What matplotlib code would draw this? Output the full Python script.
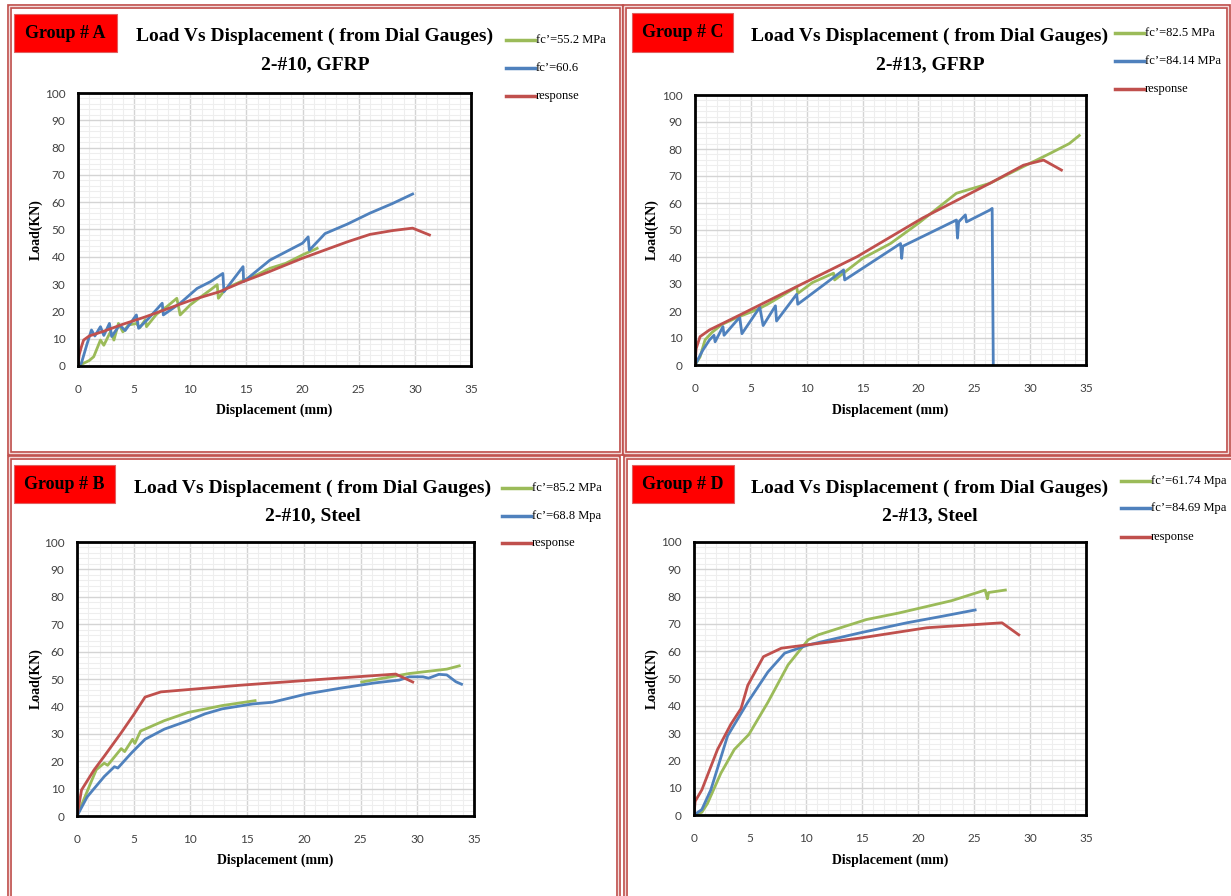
import numpy as np
import matplotlib
matplotlib.use("Agg")
import matplotlib.pyplot as plt
from matplotlib.lines import Line2D
from matplotlib.patches import Rectangle

nan = np.nan

# ---------------- data ----------------
A_green_x = [0, 0.5, 1.0, 1.4, 2.0, 2.3, 2.9, 3.2, 3.6, 4.0, 4.5, 5.2, 5.5, 6.0, 6.1, 7.0, 7.9, 8.8, 9.1, 10.0, 11.0, 11.8, 12.4, 12.5, 13.2, 14.7, 16.0, 17.1, 18.5, 20.0, 21.3]
A_green_y = [0, 1, 2, 3.4, 9.5, 7.6, 12.6, 9.5, 15.6, 12.5, 15, 15.6, 14, 17, 14.4, 19, 21.7, 24.8, 18.7, 22.4, 25.5, 27.9, 29.8, 24.8, 28.5, 31.3, 33.5, 35.8, 37.6, 40.7, 43.1]
A_blue_x = [0, 0.3, 0.8, 1.2, 1.5, 2.0, 2.3, 2.8, 3.0, 3.7, 4.2, 5.2, 5.4, 6.3, 7.5, 7.6, 9.1, 10.6, 11.8, 12.9, 13.0, 14.7, 14.75, 17.1, 20.0, 20.5, 20.6, 22.0, 24.0, 26.0, 28.0, 29.8]
A_blue_y = [0, 1, 8, 13.2, 11, 14.4, 11.2, 15.6, 10.8, 15, 13, 18.7, 13.8, 17.5, 23, 18.7, 23, 28.4, 30.9, 33.9, 27.2, 36.4, 30.9, 38.8, 45, 47.3, 42.4, 48.5, 52, 56, 59.5, 63]
A_red_x = [0, 0.1, 0.3, 0.5, 1.0, 2.2, 4.0, 6.0, 8.0, 10.0, 12.6, 14.7, 17.0, 20.0, 22.0, 24.0, 26.0, 28.0, 29.8, 31.3]
A_red_y = [0, 4, 7, 9.5, 11, 12.6, 15.3, 18, 21, 24, 27.2, 30.9, 34.5, 39.5, 42.5, 45.5, 48.2, 49.6, 50.5, 48]

C_green_x = [0, 0.45, 0.9, 1.5, 2.4, 4.0, 5.5, 6.5, 7.6, 9.1, 9.2, 10.5, 12.4, 12.5, 15.0, 17.5, 20.0, 23.4, 26.4, 29.4, 31.8, 33.5, 34.4]
C_green_y = [0, 3, 9.3, 12, 15, 18, 20.4, 22.5, 25.2, 28.9, 26.5, 30.5, 34, 31.5, 39.5, 45, 52.5, 63.6, 67.3, 73.5, 78.4, 82, 85]
C_blue_x = [0, 0.7, 1.3, 1.7, 1.8, 2.5, 2.6, 4.0, 4.2, 5.8, 6.1, 7.2, 7.3, 9.1, 9.2, 13.3, 13.4, 18.4, 18.5, 18.6, 23.4, 23.5, 23.6, 24.2, 24.3, 26.4, 26.6, 26.7]
C_blue_y = [0, 5.5, 9.3, 11, 8.6, 14.2, 11, 17.7, 11.6, 21.4, 14.6, 21.9, 16.3, 26.2, 22.5, 35.2, 31.5, 45, 39.5, 44, 53.7, 47, 53, 55.6, 53, 57.4, 58, 0]
C_red_x = [0, 0.1, 0.45, 1.3, 4.0, 8.5, 14.5, 20.4, 26.4, 29.4, 31.2, 32.8]
C_red_y = [0, 6, 10.5, 13, 18.5, 27.8, 40.1, 54.5, 67.3, 74, 75.9, 72.2]

B_green_x = [0, 1.2, 1.7, 2.4, 2.7, 3.9, 4.2, 4.9, 5.1, 5.6, 7.7, 9.8, 12.8, 15.7, nan, 25.1, 29.3, 32.6, 33.7]
B_green_y = [0, 12, 16.9, 19.3, 18.5, 24.6, 23.5, 28, 26.5, 31, 34.8, 37.8, 40.3, 42.1, nan, 48.9, 52, 53.6, 54.8]
B_blue_x = [0, 0.9, 2.4, 3.3, 3.6, 4.8, 6.0, 7.7, 9.8, 11.3, 12.8, 15.5, 17.2, 20.3, 23.3, 26.3, 28.4, 29.3, 30.5, 31.0, 31.9, 32.6, 33.4, 33.9]
B_blue_y = [0, 7, 14.4, 18, 17.5, 23, 28, 31.7, 34.8, 37.3, 39.1, 40.9, 41.5, 44.6, 46.7, 48.6, 49.6, 50.8, 50.8, 50.3, 51.7, 51.5, 49, 48.1]
B_red_x = [0, 0.4, 1.5, 2.4, 3.9, 5.0, 6.0, 7.4, 14.3, 23.3, 28.1, 29.6]
B_red_y = [0, 9.5, 16.8, 21.8, 30.4, 37, 43.4, 45.3, 47.7, 50.4, 51.8, 48.9]

D_green_x = [0, 0.7, 1.2, 2.4, 3.6, 4.9, 6.6, 8.4, 10.2, 11.1, 15.4, 18.3, 23.0, 26.0, 26.2, 26.3, 27.8]
D_green_y = [0, 1, 4.2, 15.3, 24, 29.5, 41.3, 55, 64.2, 66, 71.6, 74, 78.5, 82.4, 79.2, 81.5, 82.4]
D_blue_x = [0, 0.7, 1.5, 3.0, 4.8, 6.6, 8.1, 10.2, 14.8, 19.0, 22.3, 25.1]
D_blue_y = [0, 2, 9.2, 29, 41.3, 52.4, 59.3, 62.3, 66.7, 70.4, 72.9, 75.1]
D_red_x = [0, 0.1, 0.7, 2.1, 3.3, 4.2, 4.8, 6.2, 7.8, 14.8, 20.8, 27.5, 29.0]
D_red_y = [0, 5, 9.2, 24, 33.3, 39, 47.5, 58, 61.1, 64.8, 68.6, 70.4, 66.0]

x_ticks = [0, 5, 10, 15, 20, 25, 30, 35]
y_ticks = [0, 10, 20, 30, 40, 50, 60, 70, 80, 90, 100]

group_labels = ["Group # A", "Group # C", "Group # B", "Group # D"]
title_line1 = "Load Vs Displacement ( from Dial Gauges)"
subtitles = ["2-#10, GFRP", "2-#13, GFRP", "2-#10, Steel", "2-#13, Steel"]
legend_labels = [
    ["fc\u2019=55.2 MPa", "fc\u2019=60.6", "response"],
    ["fc\u2019=82.5 MPa", "fc\u2019=84.14 MPa", "response"],
    ["fc\u2019=85.2 MPa", "fc\u2019=68.8 Mpa", "response"],
    ["fc\u2019=61.74 Mpa", "fc\u2019=84.69 Mpa", "response"],
]
series = [
    [(A_green_x, A_green_y), (A_blue_x, A_blue_y), (A_red_x, A_red_y)],
    [(C_green_x, C_green_y), (C_blue_x, C_blue_y), (C_red_x, C_red_y)],
    [(B_green_x, B_green_y), (B_blue_x, B_blue_y), (B_red_x, B_red_y)],
    [(D_green_x, D_green_y), (D_blue_x, D_blue_y), (D_red_x, D_red_y)],
]

# ---------------- layout (pixels) ----------------
W, H = 1231, 896
colors = ["#9bbb59", "#4f81bd", "#c0504d"]
SERIF = "Liberation Serif"

fig = plt.figure(figsize=(W / 100, H / 100), dpi=100)
fig.patch.set_facecolor("white")


def fx(px):
    return px / W


def fy(py):
    return 1 - py / H


panels = [
    dict(border=(9, 6, 621, 453), ax=(78, 93, 471, 366), gbox=(14, 14, 117, 52), tx=315, ty=(36, 65),
         lx=506, ly=(40, 68, 96), ylx=36, xly=410),
    dict(border=(624, 6, 1228, 453), ax=(695, 95, 1086, 365), gbox=(632, 13, 733, 52), tx=930, ty=(36, 65),
         lx=1115, ly=(33, 61, 89), ylx=652, xly=410),
    dict(border=(9, 457, 618, 905), ax=(77, 542, 474, 816), gbox=(14, 465, 115, 503), tx=313, ty=(488, 516),
         lx=502, ly=(488, 516, 543), ylx=36, xly=860),
    dict(border=(625, 457, 1236, 905), ax=(694, 542, 1086, 815), gbox=(632, 465, 734, 503), tx=930, ty=(488, 516),
         lx=1121, ly=(481, 508, 537), ylx=652, xly=860),
]

for i, p in enumerate(panels):
    # panel border (double red line)
    l, t, r, b = p["border"]
    for lw, col in [(3.4, "#c0504d"), (1.0, "#f3dada")]:
        fig.add_artist(Rectangle((fx(l), fy(b)), fx(r) - fx(l), fy(t) - fy(b), transform=fig.transFigure,
                                 fill=False, edgecolor=col, linewidth=lw, zorder=0))

    # axes
    l, t, r, b = p["ax"]
    ax = fig.add_axes([fx(l), fy(b), fx(r) - fx(l), fy(t) - fy(b)])
    ax.set_xlim(0, 35)
    ax.set_ylim(0, 100)
    ax.set_xticks(x_ticks)
    ax.set_yticks(y_ticks)
    ax.set_xticks(np.arange(0, 36, 1), minor=True)
    ax.set_yticks(np.arange(0, 101, 2), minor=True)
    ax.grid(which="minor", color="#eeeeee", linewidth=0.8)
    ax.grid(which="major", color="#d4d4d4", linewidth=1.0)
    ax.set_axisbelow(True)
    ax.tick_params(which="both", length=0)
    ax.tick_params(axis="y", pad=9, labelsize=8.5, labelcolor="#404040")
    ax.tick_params(axis="x", pad=13, labelsize=8.5, labelcolor="#404040")
    for lab in ax.get_xticklabels() + ax.get_yticklabels():
        lab.set_fontfamily("Lato")
    for s in ax.spines.values():
        s.set_color("black")
        s.set_linewidth(2.0)

    for (xs, ys), c in zip(series[i], colors):
        ax.plot(xs, ys, color=c, linewidth=2.0, solid_joinstyle="round", clip_on=True)

    # axis labels
    fig.text(fx(p["ylx"]), fy((t + b) / 2), "Load(KN)", rotation=90, ha="center", va="center",
             family=SERIF, weight="bold", fontsize=10)
    fig.text(fx((l + r) / 2), fy(p["xly"]), "Displacement (mm)", ha="center", va="center",
             family=SERIF, weight="bold", fontsize=10)

    # group box
    gl, gt, gr, gb = p["gbox"]
    fig.add_artist(Rectangle((fx(gl), fy(gb)), fx(gr) - fx(gl), fy(gt) - fy(gb), transform=fig.transFigure,
                             facecolor="#ff0000", edgecolor="#e06060", linewidth=0.8, zorder=1))
    fig.text(fx((gl + gr) / 2), fy((gt + gb) / 2), group_labels[i], ha="center", va="center",
             family=SERIF, weight="bold", fontsize=13, color="black", zorder=2)

    # titles
    fig.text(fx(p["tx"]), fy(p["ty"][0]), title_line1, ha="center", va="center",
             family=SERIF, weight="bold", fontsize=14)
    fig.text(fx(p["tx"]), fy(p["ty"][1]), subtitles[i], ha="center", va="center",
             family=SERIF, weight="bold", fontsize=14)

    # legend
    for k in range(3):
        yy = fy(p["ly"][k])
        fig.add_artist(Line2D([fx(p["lx"]), fx(p["lx"] + 29)], [yy, yy], transform=fig.transFigure,
                              color=colors[k], linewidth=2.5))
        fig.text(fx(p["lx"] + 30), yy, legend_labels[i][k], ha="left", va="center",
                 family=SERIF, fontsize=9)

fig.savefig("out.png", dpi=100, facecolor="white")
